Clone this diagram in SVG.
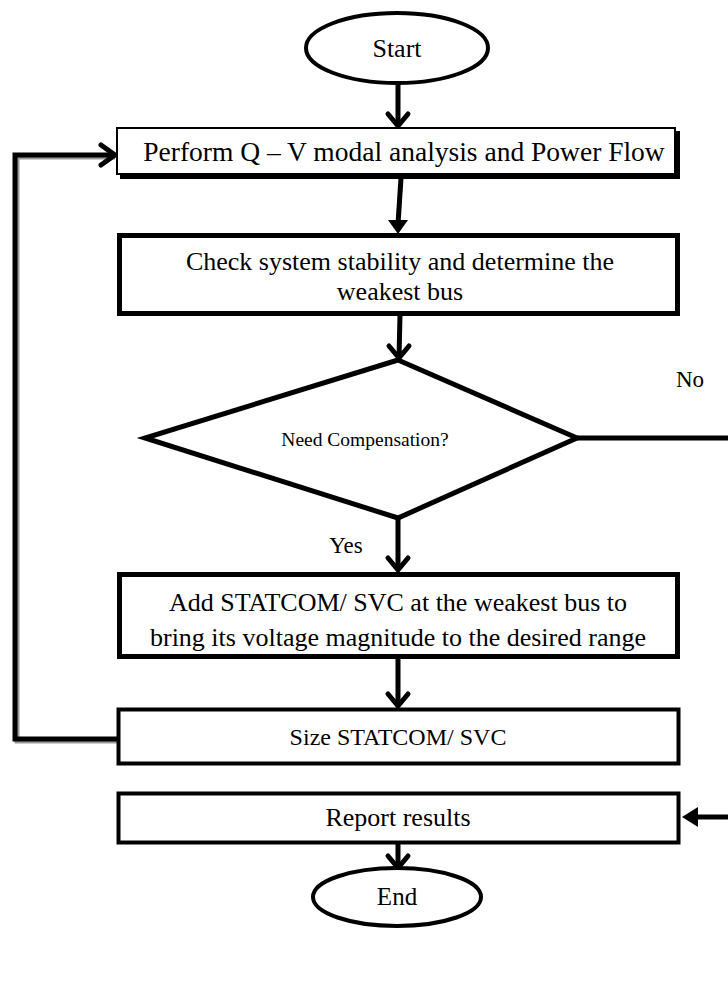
<svg xmlns="http://www.w3.org/2000/svg" width="728" height="981" viewBox="0 0 728 981">
<style>
  .t { font-family: "Liberation Serif", "Times New Roman", serif; font-size: 26px; fill: #000; text-anchor: middle; }
  .s { font-size: 19.5px; }
  .box { fill: #fff; stroke: #000; }
  .line { fill: none; stroke: #000; stroke-width: 5; }
  .chev { fill: none; stroke: #000; stroke-width: 5; stroke-linecap: round; stroke-linejoin: round; }
</style>
<rect width="728" height="981" fill="#fff"/>

<g id="connectors">
  <!-- Start -> Perform -->
  <line class="line" x1="398" y1="83" x2="398" y2="126"/>
  <polyline class="chev" points="388,114 398,126 408,114"/>
  <!-- Perform -> Check -->
  <line class="line" x1="401" y1="178" x2="398" y2="224"/>
  <path d="M388,220 L408,220 L398,234 Z" fill="#000"/>
  <!-- Check -> Diamond -->
  <line class="line" x1="400" y1="315" x2="399" y2="358"/>
  <polyline class="chev" points="389,346 399,358 409,346"/>
  <!-- No branch -->
  <line class="line" x1="577" y1="438" x2="728" y2="438"/>
  <!-- Yes -->
  <line class="line" x1="398" y1="518" x2="398" y2="570"/>
  <polyline class="chev" points="388,558 398,570 408,558"/>
  <!-- Add -> Size -->
  <line class="line" x1="398" y1="657" x2="398" y2="706"/>
  <polyline class="chev" points="388,694 398,706 408,694"/>
  <!-- Loop back -->
  <polyline points="119,741 17,741 17,157 115,157" fill="none" stroke="#999" stroke-width="5"/>
  <polyline class="line" points="119,739 15,739 15,155 115,155"/>
  <polyline class="chev" points="101,145 115,155 101,165"/>
  <!-- Right arrow into Report -->
  <line class="line" x1="728" y1="817" x2="694" y2="817"/>
  <path d="M698,807 L698,827 L682,817 Z" fill="#000"/>
  <!-- Report -> End -->
  <line class="line" x1="398" y1="843" x2="398" y2="868"/>
  <polyline class="chev" points="388,856 398,868 408,856"/>
</g>

<g id="start">
  <ellipse cx="397" cy="48" rx="91" ry="35" fill="#fff" stroke="#000" stroke-width="4"/>
  <text class="t" x="397" y="57">Start</text>
</g>

<g id="perform">
  <rect x="120" y="131" width="560" height="48" fill="#000"/>
  <rect class="box" x="117" y="128" width="558" height="46" stroke-width="2"/>
  <text class="t" x="404" y="161" style="font-size:27.5px">Perform Q – V modal analysis and Power Flow</text>
</g>

<g id="check">
  <rect class="box" x="119.5" y="235.5" width="558" height="78" stroke-width="5"/>
  <text class="t" x="400" y="270">Check system stability and determine the</text>
  <text class="t" x="400" y="300">weakest bus</text>
</g>

<g id="decision">
  <polygon points="398,360 577,438 398,518 145,438" fill="#fff" stroke="#000" stroke-width="5"/>
  <text class="t s" x="365" y="446">Need Compensation?</text>
</g>

<text class="t" x="690" y="387" style="font-size:23px">No</text>
<text class="t" x="346" y="553" style="font-size:23px">Yes</text>

<g id="add">
  <rect class="box" x="119.5" y="574.5" width="558" height="82" stroke-width="5"/>
  <text class="t" x="398" y="611">Add STATCOM/ SVC at the weakest bus to</text>
  <text class="t" x="398" y="646">bring its voltage magnitude to the desired range</text>
</g>

<g id="size">
  <rect class="box" x="118.5" y="709.5" width="560" height="54" stroke-width="4"/>
  <text class="t" x="398" y="745" style="font-size:24px">Size STATCOM/ SVC</text>
</g>

<g id="report">
  <rect class="box" x="118.5" y="793.5" width="560" height="49" stroke-width="4"/>
  <text class="t" x="398" y="826">Report results</text>
</g>

<g id="end">
  <ellipse cx="397" cy="897" rx="84" ry="29" fill="#fff" stroke="#000" stroke-width="4"/>
  <text class="t" x="397" y="905" style="font-size:25px">End</text>
</g>
</svg>
